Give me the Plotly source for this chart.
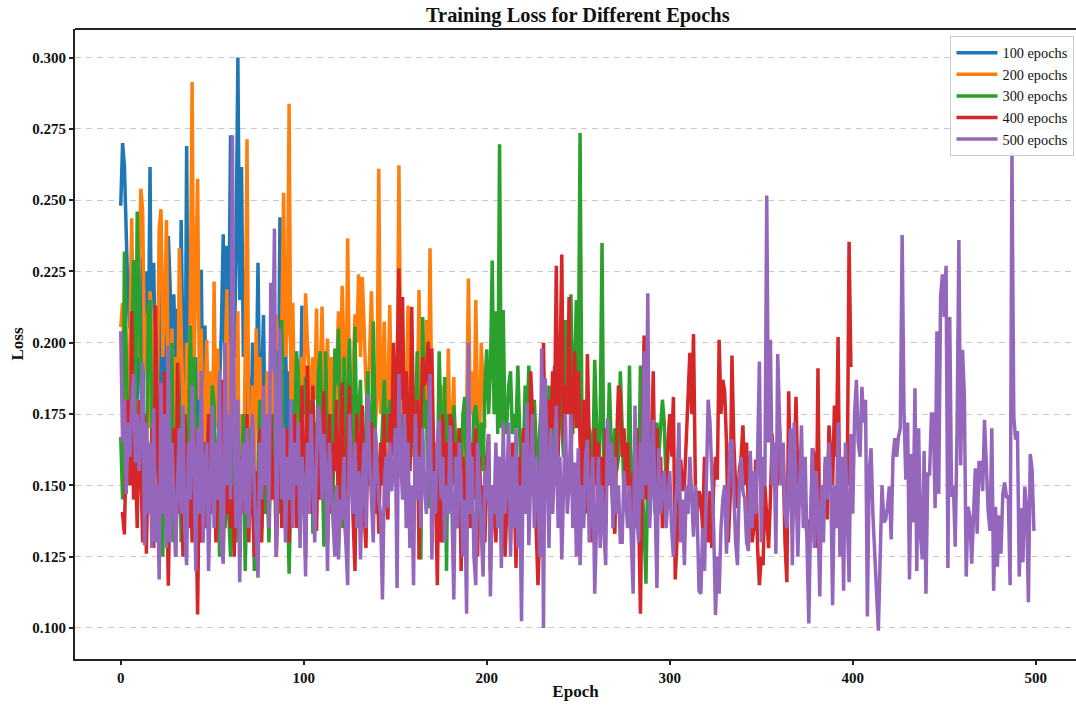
import plotly.graph_objects as go

labels = ["100 epochs", "200 epochs", "300 epochs", "400 epochs", "500 epochs"]
colors = ["#1f77b4", "#ff7f0e", "#2ca02c", "#d62728", "#9467bd"]
x_ticks = [0, 100, 200, 300, 400, 500]
y_ticks = [0.100, 0.125, 0.150, 0.175, 0.200, 0.225, 0.250, 0.275, 0.300]

loss_100 = [
.248,.270,.262,.235,.215,.205,.232,.190,.218,.180,
.195,.230,.175,.205,.225,.190,.2616,.178,.228,.185,
.195,.170,.242,.175,.210,.165,.2374,.2194,.160,.217,
.190,.212,.170,.243,.185,.150,.269,.175,.155,.205,
.165,.195,.150,.180,.2256,.165,.206,.150,.175,.186,
.145,.170,.150,.160,.185,.205,.238,.190,.234,.200,
.2727,.220,.195,.232,.300,.215,.2616,.195,.225,.170,
.188,.155,.200,.165,.180,.228,.170,.185,.2097,.160,
.180,.150,.195,.165,.205,.185,.160,.244,.195,.170,
.205,.160,.190,.175,.155,.185,.165,.180,.170,.213]

loss_200 = [
.2055,.214,.195,.178,.190,.200,.2436,.182,.210,.195,
.225,.254,.246,.190,.210,.170,.218,.205,.195,.165,
.185,.240,.2468,.195,.210,.243,.180,.165,.205,.150,
.195,.160,.2332,.205,.175,.150,.200,.170,.215,.2914,
.190,.230,.2575,.180,.205,.150,.175,.201,.165,.190,
.140,.2215,.170,.198,.145,.175,.130,.190,.2187,.165,
.200,.150,.185,.170,.211,.125,.175,.150,.195,.2713,
.160,.140,.185,.150,.205,.170,.195,.145,.180,.165,
.190,.150,.200,.175,.160,.210,.185,.170,.205,.2526,
.195,.205,.2838,.180,.214,.175,.190,.165,.175,.195,
.180,.2173,.200,.190,.175,.195,.180,.212,.160,.185,
.2127,.175,.190,.2015,.165,.195,.175,.160,.190,.211,
.185,.220,.195,.175,.2366,.185,.170,.195,.210,.200,
.224,.195,.223,.205,.185,.175,.195,.218,.190,.170,
.180,.261,.175,.185,.2074,.170,.180,.2132,.175,.185,
.195,.175,.2622,.190,.175,.165,.180,.213,.175,.160,
.170,.185,.175,.2185,.165,.190,.180,.208,.170,.2331,
.175,.150,.165,.160,.170,.185,.155,.165,.150,.198,
.160,.170,.188,.150,.165,.170,.155,.160,.165,.175,
.2225,.175,.190,.165,.215,.175,.160,.200,.185,.170]

loss_300 = [
.167,.145,.232,.190,.165,.150,.195,.229,.170,.246,
.215,.180,.160,.135,.150,.212,.215,.170,.145,.165,
.175,.140,.160,.125,.190,.135,.170,.150,.200,.130,
.165,.145,.180,.130,.155,.170,.140,.160,.206,.175,
.195,.160,.135,.175,.150,.130,.165,.145,.135,.160,
.185,.178,.140,.165,.125,.150,.175,.135,.160,.140,
.125,.150,.170,.130,.165,.145,.155,.175,.120,.150,
.170,.140,.160,.120,.145,.155,.180,.135,.160,.140,
.150,.130,.165,.175,.150,.197,.165,.140,.208,.150,
.135,.150,.119,.150,.180,.165,.197,.190,.160,.180,
.175,.188,.150,.170,.180,.133,.172,.160,.190,.197,
.165,.1285,.197,.160,.150,.175,.140,.198,.185,.205,
.170,.135,.195,.160,.180,.2015,.170,.150,.2056,.165,
.175,.187,.150,.165,.170,.190,.165,.155,.2074,.170,
.160,.150,.155,.175,.187,.165,.170,.180,.165,.175,
.160,.170,.155,.175,.165,.150,.170,.160,.155,.175,
.165,.170,.197,.150,.124,.209,.170,.180,.142,.165,
.180,.155,.160,.150,.197,.170,.130,.188,.120,.175,
.165,.150,.178,.165,.150,.170,.155,.175,.181,.150,
.165,.150,.155,.175,.178,.170,.160,.172,.155,.185,
.1977,.175,.190,.2288,.175,.211,.168,.2696,.170,.2115,
.168,.172,.185,.190,.168,.175,.170,.192,.168,.145,
.160,.185,.170,.192,.175,.150,.180,.165,.148,.170,
.180,.160,.175,.150,.185,.170,.155,.192,.165,.175,
.185,.170,.160,.208,.175,.195,.217,.168,.190,.215,
.180,.2735,.172,.155,.168,.148,.170,.165,.158,.194,
.168,.150,.172,.235,.150,.168,.160,.186,.165,.150,
.170,.155,.160,.190,.170,.145,.162,.150,.192,.145,
.150,.165,.135,.148,.192,.150,.135,.1155,.155,.140,
.150,.165,.140,.172,.160,.170,.180,.172,.150,.160]

loss_400 = [
.140,.140,.1328,.165,.180,.150,.211,.145,.160,.135,
.180,.150,.130,.175,.126,.160,.140,.170,.128,.213,
.160,.130,.175,.140,.190,.150,.1148,.155,.140,.170,
.125,.193,.140,.160,.125,.175,.150,.135,.165,.130,
.170,.145,.1047,.160,.130,.150,.165,.135,.175,.140,
.155,.165,.130,.150,.175,.187,.125,.160,.140,.170,
.135,.150,.125,.165,.145,.130,.160,.140,.150,.175,
.130,.165,.145,.125,.155,.140,.170,.130,.160,.150,
.165,.135,.175,.145,.160,.125,.150,.194,.135,.165,
.145,.170,.130,.160,.150,.175,.135,.165,.140,.185,
.160,.125,.192,.170,.140,.185,.150,.134,.170,.145,
.160,.183,.150,.130,.175,.140,.165,.155,.180,.135,
.160,.186,.145,.130,.170,.185,.155,.140,.120,.175,
.150,.165,.178,.140,.128,.165,.150,.172,.145,.140,
.160,.133,.165,.150,.175,.145,.138,.175,.160,.200,
.170,.190,.226,.180,.216,.165,.190,.175,.155,.2126,
.170,.150,.180,.124,.175,.195,.185,.190,.2004,.165,
.198,.160,.150,.115,.165,.130,.175,.150,.165,.140,
.175,.172,.150,.165,.135,.170,.120,.160,.150,.140,
.155,.135,.165,.145,.170,.125,.160,.140,.150,.130,
.160,.168,.120,.150,.140,.130,.160,.135,.155,.150,
.125,.145,.160,.130,.165,.150,.121,.160,.145,.155,
.170,.140,.165,.150,.190,.175,.155,.140,.115,.135,
.175,.200,.160,.150,.180,.165,.190,.170,.227,.160,
.190,.2309,.165,.185,.175,.216,.160,.175,.197,.170,
.190,.165,.150,.180,.140,.196,.165,.150,.130,.170,
.150,.165,.145,.160,.135,.170,.150,.165,.155,.140,
.133,.165,.185,.182,.160,.170,.150,.165,.145,.140,
.155,.150,.170,.140,.105,.160,.2025,.145,.175,.150,
.165,.190,.145,.170,.150,.160,.135,.155,.145,.165,
.175,.160,.181,.117,.135,.145,.159,.148,.150,.165,
.185,.1965,.175,.203,.150,.140,.148,.145,.135,.160,
.135,.130,.148,.128,.150,.160,.152,.201,.175,.187,
.183,.165,.130,.145,.1955,.165,.150,.142,.155,.160,
.171,.150,.165,.140,.160,.130,.135,.159,.128,.115,
.125,.122,.150,.138,.128,.145,.168,.150,.158,.150,
.170,.152,.158,.130,.116,.183,.150,.135,.160,.181,
.150,.162,.155,.142,.140,.132,.138,.130,.163,.160,
.128,.191,.125,.150,.140,.158,.138,.171,.160,.150,
.178,.160,.202,.130,.158,.142,.155,.150,.2354,.1915]

loss_500 = [
.204,.165,.180,.147,.172,.160,.178,.189,.158,.175,
.155,.168,.193,.129,.172,.140,.165,.128,.177,.130,
.150,.117,.186,.140,.175,.128,.199,.130,.165,.145,
.125,.150,.170,.140,.178,.135,.122,.165,.145,.185,
.160,.120,.170,.140,.190,.130,.155,.165,.120,.150,
.178,.135,.165,.145,.190,.130,.1225,.200,.150,.175,
.145,.2727,.170,.135,.180,.116,.155,.165,.140,.170,
.135,.160,.175,.148,.130,.1176,.165,.145,.185,.150,
.175,.135,.221,.190,.240,.125,.165,.205,.145,.170,
.130,.160,.145,.180,.135,.165,.150,.172,.128,.160,
.150,.118,.165,.140,.175,.148,.130,.160,.178,.171,
.145,.168,.155,.120,.165,.150,.135,.125,.150,.124,
.145,.138,.160,.130,.115,.175,.155,.140,.165,.135,
.155,.124,.150,.165,.135,.182,.160,.145,.130,.170,
.155,.145,.140,.110,.150,.160,.142,.165,.148,.155,
.170,.114,.189,.160,.145,.175,.135,.165,.128,.150,
.115,.175,.145,.160,.135,.170,.150,.140,.160,.189,
.124,.155,.140,.165,.173,.145,.160,.130,.150,.140,
.171,.145,.110,.160,.135,.165,.150,.125,.145,.105,
.200,.140,.160,.125,.115,.165,.150,.135,.118,.155,
.145,.168,.111,.150,.140,.165,.135,.160,.121,.172,
.140,.150,.172,.125,.160,.135,.170,.128,.150,.1023,
.165,.140,.179,.129,.155,.175,.135,.160,.145,.125,
.198,.100,.1875,.150,.128,.170,.140,.155,.178,.135,
.160,.124,.155,.175,.140,.150,.175,.135,.158,.125,
.163,.122,.150,.135,.160,.166,.130,.145,.160,.112,
.140,.160,.128,.150,.135,.122,.1735,.150,.165,.135,
.160,.140,.150,.130,.130,.155,.145,.135,.150,.128,
.112,.178,.140,.130,.165,.145,.197,.150,.2173,.135,
.150,.173,.135,.114,.163,.140,.150,.155,.135,.148,
.155,.135,.125,.142,.150,.172,.130,.145,.122,.150,
.140,.160,.145,.132,.150,.140,.113,.112,.135,.120,
.150,.180,.172,.155,.135,.1045,.125,.112,.135,.145,
.150,.126,.150,.165,.166,.145,.130,.122,.150,.160,
.148,.145,.130,.127,.162,.135,.155,.140,.160,.1934,
.130,.160,.150,.2516,.165,.201,.150,.165,.126,.196,
.175,.150,.165,.140,.135,.150,.170,.122,.172,.150,
.125,.150,.171,.135,.160,.130,.1016,.140,.163,.128,
.155,.140,.111,.150,.130,.160,.145,.165,.150,.108,
.150,.135,.172,.125,.160,.113,.165,.140,.116,.168,
.140,.175,.187,.165,.160,.1845,.172,.180,.104,.155,
.163,.140,.124,.112,.099,.125,.150,.137,.138,.1425,
.1496,.131,.160,.1665,.160,.167,.170,.2378,.176,.152,
.172,.117,.161,.137,.184,.120,.170,.133,.124,.162,
.112,.154,.154,.175,.175,.142,.204,.147,.216,.224,
.209,.227,.121,.209,.146,.150,.1285,.169,.236,.157,
.1975,.181,.118,.1425,.139,.1225,.137,.156,.133,.158,
.158,.148,.173,.155,.141,.134,.170,.113,.1425,.1215,
.1395,.126,.147,.151,.146,.146,.115,.2667,.174,.166,
.169,.118,.142,.123,.1495,.1425,.109,.161,.1555,.134]

series = [loss_100, loss_200, loss_300, loss_400, loss_500]
for s, n in zip(series, [100, 200, 300, 400, 500]):
    assert len(s) == n, (n, len(s))

SERIF = "Liberation Serif"
fig = go.Figure()
for name, color, values in zip(labels, colors, series):
    fig.add_trace(go.Scatter(x=list(range(len(values))), y=values, mode="lines", name=name,
                             line=dict(color=color, width=3.5, shape="linear")))

axis_font = dict(family=SERIF, size=15, color="#111111", weight="bold")
title_font = dict(family=SERIF, size=17, color="#111111", weight="bold")
fig.update_layout(
    width=1076, height=706,
    margin=dict(l=75, r=0, t=29, b=47),
    paper_bgcolor="white", plot_bgcolor="white",
    font=dict(family=SERIF, size=15, color="#111111"),
    title=dict(text="Training Loss for Different Epochs",
               font=dict(family=SERIF, size=20.4, color="#111111", weight="bold"),
               x=0.537, xanchor="center", y=0.9785, yanchor="middle"),
    showlegend=True,
    legend=dict(x=0.9985, xanchor="right", y=0.989, yanchor="top",
                bgcolor="rgba(255,255,255,0.85)", bordercolor="#cccccc", borderwidth=1,
                font=dict(family=SERIF, size=14.3, color="#111111"),
                itemwidth=41, traceorder="normal", tracegroupgap=0),
    xaxis=dict(range=[-25, 522], tickvals=x_ticks, tickfont=axis_font,
               title=dict(text="Epoch", font=title_font, standoff=0),
               showgrid=False, zeroline=False, showline=True, linecolor="#222222", linewidth=2,
               ticks="outside", ticklen=4, tickwidth=2, tickcolor="#222222", mirror=False),
    yaxis=dict(range=[0.0891, 0.3100], tickvals=y_ticks, tickformat=".3f", tickfont=axis_font,
               title=dict(text="Loss", font=title_font, standoff=4),
               showgrid=True, gridcolor="#c9c9c9", gridwidth=1.2, griddash="6px,5px",
               zeroline=False, showline=True, linecolor="#222222", linewidth=2,
               ticks="outside", ticklen=4, tickwidth=2, tickcolor="#222222"),
    shapes=[dict(type="line", xref="paper", yref="paper", x0=0, x1=1, y0=1, y1=1,
                 line=dict(color="#222222", width=2))],
)
fig.write_html("out.html", config={"displayModeBar": False},
               post_script="document.body.style.margin='0';")
